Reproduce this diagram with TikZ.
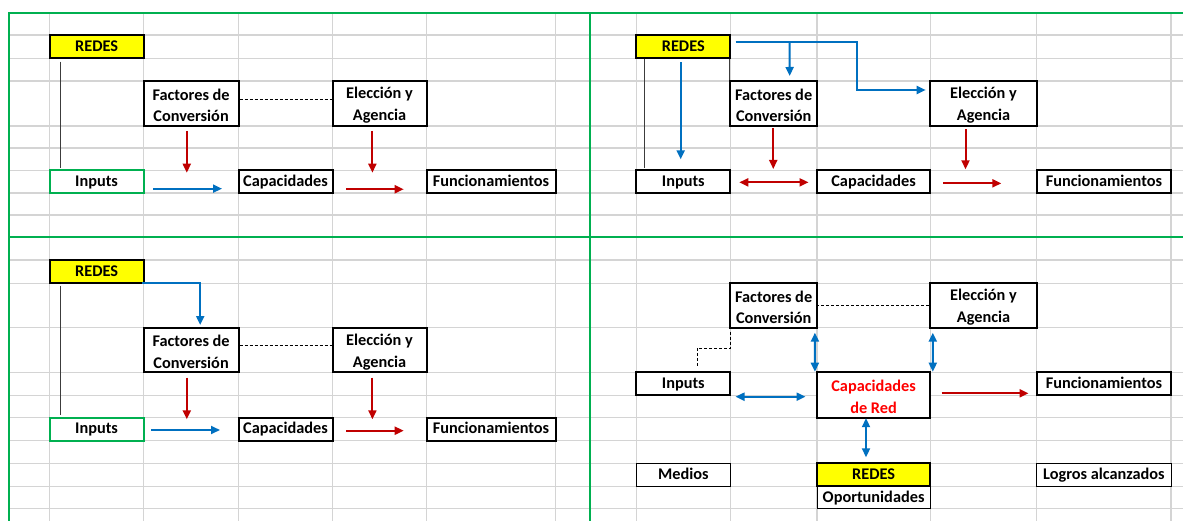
\documentclass[tikz,border=0pt]{standalone}
\usepackage{fontspec}
\setmainfont{Carlito}
\usetikzlibrary{arrows.meta,calc}
\definecolor{gridgray}{RGB}{212,212,212}
\definecolor{xlgreen}{RGB}{0,176,80}
\definecolor{xlblue}{RGB}{0,112,192}
\definecolor{xlred}{RGB}{192,0,0}
\definecolor{brightred}{RGB}{255,0,0}
\definecolor{xlyellow}{RGB}{255,255,0}
\definecolor{darkline}{RGB}{60,60,60}
\tikzset{
  cell/.style={draw=black, line width=2pt, fill=white, inner sep=0pt, outer sep=0pt,
    anchor=north west, align=center, text=black,
    font=\fontsize{16.3}{21.7}\selectfont\bfseries},
  one/.style={text height=13pt, text depth=3.3pt},
  thincell/.style={cell, line width=1pt},
  greencell/.style={cell, draw=xlgreen},
  redescell/.style={cell, fill=xlyellow},
  bluearrow/.style={draw=xlblue, line width=2pt, -{Triangle[length=9pt,width=8pt]}},
  bluedouble/.style={draw=xlblue, line width=2pt, {Triangle[length=9pt,width=8pt]}-{Triangle[length=9pt,width=8pt]}},
  redarrow/.style={draw=xlred, line width=2pt, -{Triangle[length=9pt,width=8pt]}},
  reddouble/.style={draw=xlred, line width=2pt, {Triangle[length=9pt,width=8pt]}-{Triangle[length=9pt,width=8pt]}},
  thinline/.style={draw=darkline, line width=0.9pt},
  dashline/.style={draw=black, line width=0.8pt, dash pattern=on 3pt off 2pt},
  gridline/.style={draw=gridgray, line width=1.2pt},
  panelline/.style={draw=xlgreen, line width=2.2pt},
}
\begin{document}
\begin{tikzpicture}[x=1pt,y=-1pt]
\useasboundingbox (0,0) rectangle (1183,521);
\fill[white] (0,0) rectangle (1183,521);
% grid
\foreach \c in {49.5,143.7,238.5,332.5,426.5,555.5,636.3,730.3,817,930.2,1036.8,1171}
  \draw[gridline] (\c,12.7) -- (\c,521);
\foreach \r in {35,58.3,81,126,148,170.3,193,215,260,283.3,327.7,372.3,395.3,417.7,440.5,463.3,486.3,508.3}
  \draw[gridline] (9.3,\r) -- (1183,\r);
% panel separators
\draw[panelline] (9.3,521) -- (9.3,12.7) -- (1183,12.7);
\draw[panelline] (590,12.7) -- (590,521);
\draw[panelline] (9.3,236.7) -- (1183,236.7);

% ---------- panel 1 ----------
\node[redescell, one, minimum width=94.2, minimum height=23.3] (redes1) at (49.5,35) {REDES};
\node[cell, minimum width=94.8, minimum height=45] (fac1) at (143.7,81) {\strut Factores de\\Conversión};
\node[cell, minimum width=94, minimum height=45] (ele1) at (332.5,81) {\strut Elección y\\Agencia};
\node[greencell, one, minimum width=94.2, minimum height=22.7] (inp1) at (49.5,170.3) {Inputs};
\node[cell, one, minimum width=94, minimum height=22.7] (cap1) at (238.5,170.3) {Capacidades};
\node[cell, one, minimum width=129, minimum height=22.7] (fun1) at (426.5,170.3) {Funcionamientos};
\draw[thinline] ($(redes1.south west)+(11,3.4)$) -- ($(inp1.north west)+(11,-2)$);
\draw[dashline] ($(fac1.east)+(1,-4.5)$) -- ($(ele1.west)+(-1,-4.5)$);
\draw[redarrow] ($(fac1.south)+(-4.3,5)$) -- ($(fac1.south)+(-4.3,46.7)$);
\draw[redarrow] ($(ele1.south)+(-7.1,5)$) -- ($(ele1.south)+(-7.1,46.7)$);
\draw[bluearrow] ($(inp1.east)+(9.3,7)$) -- ($(cap1.west)+(-16.5,7)$);
\draw[redarrow] ($(cap1.east)+(13.8,7.6)$) -- ($(fun1.west)+(-22.8,7.6)$);

% ---------- panel 2 ----------
\node[redescell, one, minimum width=94, minimum height=23.3] (redes2) at (636.3,35) {REDES};
\node[cell, minimum width=86.7, minimum height=45] (fac2) at (730.3,81) {\strut Factores de\\Conversión};
\node[cell, minimum width=106.6, minimum height=45] (ele2) at (930.2,81) {\strut Elección y\\Agencia};
\node[cell, one, minimum width=94, minimum height=22.7] (inp2) at (636.3,170.3) {Inputs};
\node[cell, one, minimum width=113.2, minimum height=22.7] (cap2) at (817,170.3) {Capacidades};
\node[cell, one, minimum width=134.2, minimum height=22.7] (fun2) at (1036.8,170.3) {Funcionamientos};
\draw[thinline] ($(redes2.south west)+(7.7,1)$) -- ($(inp2.north west)+(7.7,-2)$);
\draw[thinline] ($(redes2.south east)+(-1,1)$) -- ($(fac2.north west)+(-1,-1)$);
\draw[bluearrow] ($(redes2.south)+(-2.6,4)$) -- ($(inp2.north)+(-2.6,-11)$);
\draw[bluearrow] ($(redes2.east)+(5.2,-4.4)$) -- ++(121.7,0) |- ($(ele2.west)+(-4.5,-13.5)$);
\draw[bluearrow] ($(redes2.east)+(59.3,-4.4)$) -- ($(fac2.north)+(16,-5)$);
\draw[redarrow] ($(fac2.south)+(-0.4,2.3)$) -- ($(fac2.south)+(-0.4,43)$);
\draw[redarrow] ($(ele2.south)+(-18,3.3)$) -- ($(ele2.south)+(-18,43.3)$);
\draw[reddouble] ($(inp2.east)+(9,0.7)$) -- ($(cap2.west)+(-8.5,0.7)$);
\draw[redarrow] ($(cap2.east)+(13.2,1.7)$) -- ($(fun2.west)+(-35.5,1.7)$);

% ---------- panel 3 ----------
\node[redescell, one, minimum width=94.2, minimum height=23.3] (redes3) at (49.5,260) {REDES};
\node[cell, minimum width=94.8, minimum height=44.6] (fac3) at (143.7,327.7) {\strut Factores de\\Conversión};
\node[cell, minimum width=94, minimum height=44.6] (ele3) at (332.5,327.7) {\strut Elección y\\Agencia};
\node[greencell, one, minimum width=94.2, minimum height=22.8] (inp3) at (49.5,417.7) {Inputs};
\node[cell, one, minimum width=94, minimum height=22.8] (cap3) at (238.5,417.7) {Capacidades};
\node[cell, one, minimum width=129, minimum height=22.8] (fun3) at (426.5,417.7) {Funcionamientos};
\draw[thinline] ($(redes3.south west)+(11,2.4)$) -- ($(inp3.north west)+(11,-2.7)$);
\draw[bluearrow] ($(redes3.south east)+(-1.3,-0.6)$) -| ($(fac3.north)+(9.1,-2.7)$);
\draw[dashline] ($(fac3.east)+(1,-5)$) -- ($(ele3.west)+(-1,-5)$);
\draw[redarrow] ($(fac3.south)+(-4.3,5.4)$) -- ($(fac3.south)+(-4.3,47)$);
\draw[redarrow] ($(ele3.south)+(-7.1,5.4)$) -- ($(ele3.south)+(-7.1,47)$);
\draw[bluearrow] ($(inp3.east)+(7.3,0.9)$) -- ($(cap3.west)+(-18.5,0.9)$);
\draw[redarrow] ($(cap3.east)+(13.5,1.6)$) -- ($(fun3.west)+(-22.8,1.6)$);

% ---------- panel 4 ----------
\node[cell, minimum width=86.7, minimum height=44.4] (fac4) at (730.3,283.3) {\strut Factores de\\Conversión};
\node[cell, minimum width=106.6, minimum height=44.4] (ele4) at (930.2,283.3) {\strut Elección y\\Agencia};
\node[cell, one, minimum width=94, minimum height=23] (inp4) at (636.3,372.3) {Inputs};
\node[cell, minimum width=113.2, minimum height=45.4, text=brightred] (capred) at (817,372.3) {\strut Capacidades\\de Red};
\node[cell, one, minimum width=134.2, minimum height=23] (fun4) at (1036.8,372.3) {Funcionamientos};
\node[thincell, one, minimum width=94, minimum height=23] (medios) at (636.3,463.3) {Medios};
\node[redescell, one, minimum width=113.2, minimum height=23] (redes4) at (817,463.3) {REDES};
\node[thincell, one, minimum width=113.2, minimum height=22] (oport) at (817,486.3) {Oportunidades};
\node[thincell, one, minimum width=134.2, minimum height=23] (logros) at (1036.8,463.3) {Logros alcanzados};
\draw[dashline] ($(fac4.east)+(-1,-0.5)$) -- ($(ele4.west)+(0,-0.5)$);
\draw[dashline] ($(fac4.south west)+(0.3,4)$) -- ++(0,16.6) -| ($(inp4.north)+(13.7,-6.3)$);
\draw[bluedouble] ($(inp4.east)+(5.2,12.9)$) -- ($(capred.west)+(-11.5,1.7)$);
\draw[bluedouble] ($(fac4.south east)+(-2.1,5)$) -- ($(capred.north west)+(-2.1,-0.6)$);
\draw[bluedouble] ($(ele4.south west)+(2.6,5)$) -- ($(capred.north east)+(2.6,-0.6)$);
\draw[bluedouble] ($(capred.south)+(-7.6,0.5)$) -- ($(redes4.north)+(-7.6,-6)$);
\draw[redarrow] ($(capred.east)+(11.3,-1.7)$) -- ($(fun4.west)+(-8.3,9.5)$);
\end{tikzpicture}
\end{document}
